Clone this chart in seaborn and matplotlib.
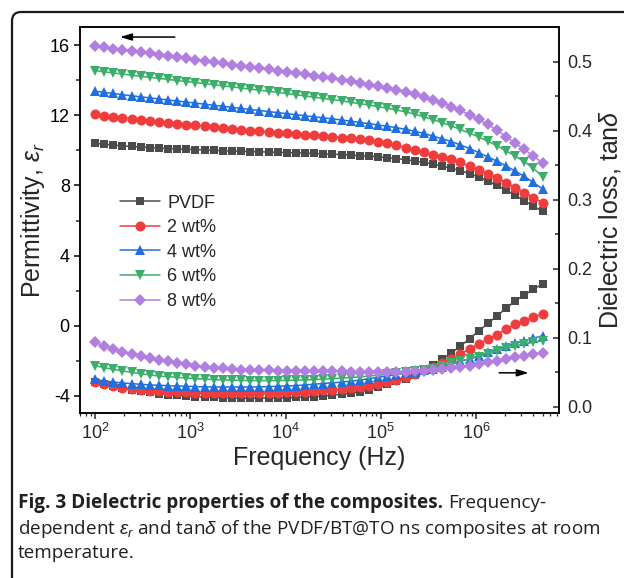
import numpy as np
import matplotlib
matplotlib.use("Agg")
import matplotlib.pyplot as plt
import seaborn as sns
from matplotlib.patches import FancyBboxPatch
from matplotlib.transforms import IdentityTransform
from matplotlib.ticker import MultipleLocator, FormatStrFormatter, LogLocator, NullFormatter

# ── style ─────────────────────────────────────────────────────────────────────
sns.set_theme(style="ticks")
plt.rcParams["font.family"] = ["Liberation Sans", "DejaVu Sans"]
plt.rcParams["mathtext.fontset"] = "custom"
plt.rcParams["mathtext.rm"] = "Liberation Sans"
plt.rcParams["mathtext.it"] = "Liberation Sans:italic"
plt.rcParams["mathtext.bf"] = "Liberation Sans:bold"
plt.rcParams["axes.unicode_minus"] = False

# ── data ──────────────────────────────────────────────────────────────────────
# log frequency sweep, 100 Hz .. 5 MHz, 50 points
freq = np.logspace(2, np.log10(5e6), 50)

samples = ["PVDF", "2 wt%", "4 wt%", "6 wt%", "8 wt%"]

eps_pvdf = [10.40, 10.35, 10.30, 10.26, 10.22, 10.19, 10.16, 10.13, 10.10, 10.08,
            10.06, 10.04, 10.02, 10.00, 9.98, 9.96, 9.95, 9.93, 9.92, 9.90,
            9.89, 9.87, 9.86, 9.84, 9.82, 9.80, 9.78, 9.76, 9.73, 9.70,
            9.67, 9.63, 9.58, 9.53, 9.47, 9.39, 9.31, 9.21, 9.10, 8.98,
            8.84, 8.67, 8.48, 8.25, 8.00, 7.73, 7.44, 7.13, 6.82, 6.52]
eps_2 = [12.05, 11.98, 11.92, 11.86, 11.80, 11.74, 11.68, 11.63, 11.57, 11.52,
         11.47, 11.42, 11.37, 11.32, 11.27, 11.22, 11.17, 11.13, 11.09, 11.05,
         11.01, 10.97, 10.93, 10.89, 10.85, 10.81, 10.77, 10.73, 10.69, 10.64,
         10.58, 10.50, 10.40, 10.28, 10.14, 10.00, 9.88, 9.75, 9.62, 9.48,
         9.31, 9.11, 8.90, 8.66, 8.42, 8.15, 7.88, 7.59, 7.30, 7.01]
eps_4 = [13.37, 13.30, 13.24, 13.17, 13.11, 13.05, 12.99, 12.93, 12.87, 12.81,
         12.75, 12.69, 12.63, 12.57, 12.51, 12.45, 12.39, 12.33, 12.27, 12.21,
         12.15, 12.09, 12.03, 11.97, 11.91, 11.85, 11.79, 11.73, 11.66, 11.59,
         11.52, 11.45, 11.37, 11.29, 11.20, 11.09, 10.96, 10.81, 10.66, 10.50,
         10.31, 10.10, 9.87, 9.63, 9.38, 9.11, 8.82, 8.51, 8.17, 7.80]
eps_6 = [14.55, 14.48, 14.41, 14.35, 14.28, 14.22, 14.16, 14.10, 14.04, 13.98,
         13.92, 13.86, 13.80, 13.74, 13.68, 13.62, 13.55, 13.49, 13.43, 13.37,
         13.30, 13.24, 13.17, 13.10, 13.03, 12.96, 12.89, 12.82, 12.74, 12.66,
         12.58, 12.49, 12.40, 12.30, 12.19, 12.06, 11.91, 11.75, 11.58, 11.39,
         11.19, 10.98, 10.76, 10.52, 10.26, 9.97, 9.67, 9.36, 8.97, 8.50]
eps_8 = [15.95, 15.87, 15.80, 15.73, 15.66, 15.59, 15.52, 15.45, 15.38, 15.31,
         15.24, 15.17, 15.10, 15.03, 14.96, 14.89, 14.82, 14.75, 14.68, 14.61,
         14.54, 14.47, 14.40, 14.33, 14.26, 14.18, 14.10, 14.02, 13.93, 13.84,
         13.74, 13.64, 13.54, 13.44, 13.33, 13.20, 13.05, 12.89, 12.70, 12.49,
         12.28, 12.02, 11.76, 11.48, 11.15, 10.78, 10.40, 10.05, 9.67, 9.28]

tan_pvdf = [0.036, 0.033, 0.030, 0.027, 0.025, 0.023, 0.021, 0.0195, 0.018, 0.017,
            0.016, 0.015, 0.0145, 0.014, 0.0135, 0.013, 0.013, 0.013, 0.013, 0.013,
            0.0132, 0.0135, 0.014, 0.0145, 0.015, 0.016, 0.017, 0.0185, 0.020, 0.022,
            0.025, 0.029, 0.033, 0.037, 0.041, 0.046, 0.053, 0.061, 0.069, 0.078,
            0.088, 0.099, 0.110, 0.121, 0.132, 0.143, 0.154, 0.162, 0.171, 0.178]
tan_2 = [0.036, 0.033, 0.030, 0.028, 0.026, 0.0246, 0.0236, 0.0227, 0.022, 0.0215,
         0.021, 0.0205, 0.0203, 0.0202, 0.0201, 0.020, 0.020, 0.020, 0.020, 0.0202,
         0.0205, 0.021, 0.0215, 0.022, 0.023, 0.024, 0.025, 0.026, 0.0275, 0.029,
         0.031, 0.0335, 0.036, 0.039, 0.043, 0.048, 0.053, 0.058, 0.064, 0.070,
         0.077, 0.084, 0.091, 0.098, 0.105, 0.113, 0.120, 0.125, 0.130, 0.135]
tan_4 = [0.040, 0.0377, 0.0362, 0.0348, 0.0338, 0.0329, 0.0319, 0.0314, 0.0309, 0.0304,
         0.030, 0.0295, 0.0292, 0.029, 0.029, 0.029, 0.029, 0.029, 0.0292, 0.0295,
         0.030, 0.0305, 0.031, 0.032, 0.033, 0.034, 0.035, 0.036, 0.0375, 0.039,
         0.041, 0.043, 0.045, 0.047, 0.049, 0.051, 0.053, 0.055, 0.058, 0.062,
         0.066, 0.070, 0.074, 0.079, 0.084, 0.088, 0.092, 0.096, 0.100, 0.103]
tan_6 = [0.060, 0.057, 0.0546, 0.0522, 0.0502, 0.0483, 0.0464, 0.0449, 0.044, 0.043,
         0.042, 0.0411, 0.0403, 0.0397, 0.0392, 0.0388, 0.0385, 0.0383, 0.0382, 0.0382,
         0.0383, 0.0385, 0.0388, 0.0392, 0.0397, 0.0403, 0.041, 0.0418, 0.0427, 0.0437,
         0.0448, 0.046, 0.0473, 0.0487, 0.050, 0.0515, 0.053, 0.0555, 0.059, 0.0633,
         0.0667, 0.0696, 0.0729, 0.0768, 0.0816, 0.0855, 0.0884, 0.0913, 0.0937, 0.0957]
tan_8 = [0.094, 0.088, 0.084, 0.080, 0.077, 0.074, 0.071, 0.068, 0.066, 0.064,
         0.062, 0.060, 0.058, 0.057, 0.056, 0.055, 0.054, 0.0535, 0.053, 0.053,
         0.0525, 0.0525, 0.052, 0.052, 0.052, 0.0518, 0.0516, 0.0515, 0.0514, 0.0513,
         0.0513, 0.0513, 0.0513, 0.0513, 0.0513, 0.052, 0.0526, 0.0536, 0.0546, 0.056,
         0.0575, 0.0594, 0.0619, 0.0647, 0.0671, 0.0696, 0.072, 0.0744, 0.0764, 0.0787]

eps_all = [eps_pvdf, eps_2, eps_4, eps_6, eps_8]
tan_all = [tan_pvdf, tan_2, tan_4, tan_6, tan_8]

colors = ["#4b4b4b", "#f03c3c", "#1f6fe0", "#3aae6a", "#b07fdf"]
markers = ["s", "o", "^", "v", "D"]
msizes = [6.4, 7.2, 7.8, 7.8, 6.2]

# ── figure ────────────────────────────────────────────────────────────────────
fig = plt.figure(figsize=(6.24, 5.78), dpi=100)
ax = fig.add_axes([0.1282, 0.2855, 0.8958 - 0.1282, 0.9533 - 0.2855])
ax2 = ax.twinx()

for name, c, m, ms, e, t in zip(samples, colors, markers, msizes, eps_all, tan_all):
    sns.lineplot(x=freq, y=e, ax=ax, color=c, marker=m, markersize=ms,
                 markeredgewidth=0, linewidth=1.1, label=name,
                 estimator=None, sort=False)
    sns.lineplot(x=freq, y=t, ax=ax2, color=c, marker=m, markersize=ms,
                 markeredgewidth=0, linewidth=1.1, legend=False,
                 estimator=None, sort=False)

ax.set_xscale("log")
ax.set_xlim(69.6, 7.43e6)
ax.set_ylim(-4.97, 17.03)
ax2.set_ylim(-0.0087, 0.5507)

ax.yaxis.set_major_locator(MultipleLocator(4))
ax.yaxis.set_minor_locator(MultipleLocator(2))
ax2.yaxis.set_major_locator(MultipleLocator(0.1))
ax2.yaxis.set_minor_locator(MultipleLocator(0.05))
ax2.yaxis.set_major_formatter(FormatStrFormatter("%.1f"))
ax.xaxis.set_major_locator(LogLocator(base=10, numticks=12))
ax.xaxis.set_minor_locator(LogLocator(base=10, subs=np.arange(2, 10), numticks=12))
ax.xaxis.set_minor_formatter(NullFormatter())

for a in (ax, ax2):
    for sp in a.spines.values():
        sp.set_linewidth(1.1)
        sp.set_color("black")

ax.tick_params(axis="y", which="major", direction="out", length=4.3, width=1.1,
               labelsize=13, pad=3, right=False, colors="black")
ax.tick_params(axis="y", which="minor", direction="out", length=2.8, width=1.1, right=False)
ax.tick_params(axis="x", which="major", direction="out", length=4.0, width=1.1,
               labelsize=13, pad=3, top=False)
ax.tick_params(axis="x", which="minor", direction="out", length=2.4, width=0.9, top=False)
ax2.tick_params(axis="y", which="major", direction="in", length=4.3, width=1.1,
                labelsize=13, pad=6, left=False)
ax2.tick_params(axis="y", which="minor", direction="in", length=2.8, width=1.1, left=False)

ax.set_xlabel("Frequency (Hz)", fontsize=18, labelpad=2)
ax.set_ylabel(r"Permittivity, $\varepsilon_r$", fontsize=18, labelpad=2)
ax2.set_ylabel(r"Dielectric loss, tan$\delta$", fontsize=18, labelpad=3)

handles, labels = ax.get_legend_handles_labels()
ax.legend(handles, labels, loc="upper left", bbox_to_anchor=(0.084, 0.566),
          frameon=False, fontsize=13, handlelength=2.2, handletextpad=0.4,
          labelspacing=0.42, borderaxespad=0, borderpad=0)

# direction arrows
arrow = dict(arrowstyle="-|>,head_length=0.5,head_width=0.15", color="black",
             lw=1.1, mutation_scale=14, shrinkA=0, shrinkB=0)
ax.annotate("", xy=(0.0835, 0.974), xytext=(0.198, 0.974),
            xycoords="axes fraction", textcoords="axes fraction", arrowprops=arrow)
ax.annotate("", xy=(0.937, 0.104), xytext=(0.875, 0.104),
            xycoords="axes fraction", textcoords="axes fraction", arrowprops=arrow)

# rounded frame (cropped at right/bottom)
frame = FancyBboxPatch((12, -40), 700, 606, boxstyle="round,pad=0,rounding_size=9",
                       transform=IdentityTransform(), fill=False, lw=1.6,
                       ec="#1a1a1a")
fig.add_artist(frame)

# caption
cap_kw = dict(fontsize=13.6, color="#231f20", va="center", ha="left",
              family=["Open Sans", "DejaVu Sans"])
t1 = fig.text(18 / 624, 1 - 503 / 578, "Fig. 3 Dielectric properties of the composites.",
              fontweight="bold", **cap_kw)
fig.canvas.draw()
bb = t1.get_window_extent(renderer=fig.canvas.get_renderer())
fig.text(bb.x1 / 624 + 5 / 624, 1 - 503 / 578, "Frequency-", **cap_kw)
fig.text(18 / 624, 1 - 529 / 578,
         r"dependent $\varepsilon_r$ and tan$\delta$ of the PVDF/BT@TO ns composites at room",
         **cap_kw)
fig.text(18 / 624, 1 - 553 / 578, "temperature.", **cap_kw)

fig.savefig("out.png", dpi=100)
